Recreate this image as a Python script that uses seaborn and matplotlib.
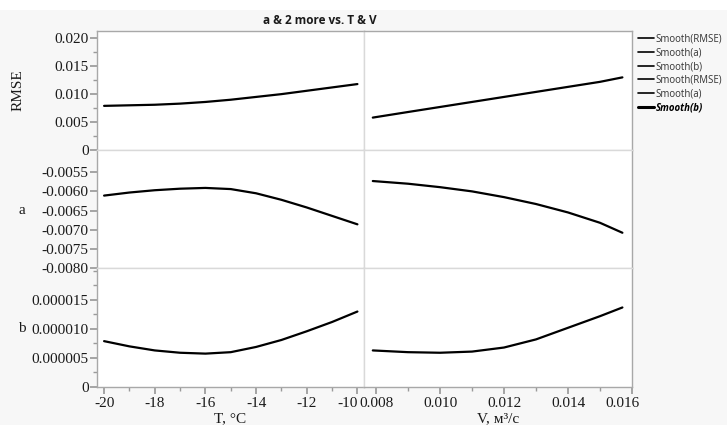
import numpy as np
import pandas as pd
import matplotlib
matplotlib.use("Agg")
import matplotlib.pyplot as plt
import seaborn as sns
from matplotlib.lines import Line2D
from matplotlib.patches import Rectangle
from matplotlib.ticker import FixedLocator, FixedFormatter, MultipleLocator
from matplotlib.transforms import ScaledTranslation

# ---- data ----
T_vals = [-20, -19, -18, -17, -16, -15, -14, -13, -12, -11, -10]
rmse_T = [0.0079, 0.0080, 0.0081, 0.0083, 0.0086, 0.0090, 0.0095, 0.0100, 0.0106, 0.0112, 0.0118]
a_T = [-0.00611, -0.00603, -0.00597, -0.00593, -0.00591, -0.00594, -0.00605, -0.00622, -0.00642, -0.00664, -0.00686]
b_T = [7.9e-6, 7.0e-6, 6.3e-6, 5.9e-6, 5.75e-6, 6.0e-6, 6.9e-6, 8.1e-6, 9.6e-6, 11.2e-6, 13.0e-6]

V_vals = [0.0079, 0.009, 0.010, 0.011, 0.012, 0.013, 0.014, 0.015, 0.0157]
rmse_V = [0.0058, 0.0068, 0.0077, 0.0086, 0.0095, 0.0104, 0.0113, 0.0122, 0.0130]
a_V = [-0.00573, -0.00580, -0.00589, -0.00600, -0.00615, -0.00633, -0.00655, -0.00682, -0.00708]
b_V = [6.3e-6, 6.0e-6, 5.9e-6, 6.1e-6, 6.8e-6, 8.2e-6, 10.2e-6, 12.2e-6, 13.7e-6]

title = "a & 2 more vs. T & V"
row_labels = ["RMSE", "a", "b"]
x_labels = ["T, °C", "V, м³/с"]
legend_labels = ["Smooth(RMSE)", "Smooth(a)", "Smooth(b)", "Smooth(RMSE)", "Smooth(a)", "Smooth(b)"]

T_ticks = [-20, -18, -16, -14, -12, -10]
V_ticks = [0.008, 0.010, 0.012, 0.014, 0.016]
V_tick_labels = ["0.008", "0.010", "0.012", "0.014", "0.016"]
rmse_ticks = [0, 0.005, 0.010, 0.015, 0.020]
rmse_tick_labels = ["0", "0.005", "0.010", "0.015", "0.020"]
a_ticks = [-0.0080, -0.0075, -0.0070, -0.0065, -0.0060, -0.0055]
a_tick_labels = ["-0.0080", "-0.0075", "-0.0070", "-0.0065", "-0.0060", "-0.0055"]
b_ticks = [0, 0.000005, 0.000010, 0.000015]
b_tick_labels = ["0", "0.000005", "0.000010", "0.000015"]

sns.set_theme(style="white")
plt.rcParams['font.family'] = ['Liberation Serif', 'DejaVu Serif']

W, H = 727, 425
fig = plt.figure(figsize=(W / 100, H / 100), dpi=100)
fig.patch.set_facecolor("#f7f7f7")
fig.patches.append(Rectangle((0, (H - 10) / H), 1, 10 / H, transform=fig.transFigure,
                             facecolor="white", edgecolor="none", zorder=-1))

def px_axes(x0, y0, x1, y1):
    return fig.add_axes([x0 / W, (H - y1) / H, (x1 - x0) / W, (y1 - y0) / H])

col_x = [(97, 364), (364, 632)]
row_y = [(31, 150), (150, 268), (268, 387)]
xlims = [(-20.28, -9.74), (0.007625, 0.016)]
ylims = [(0, 0.0213), (-0.0080, -0.00492), (0, 0.0000205)]
xs = [T_vals, V_vals]
ys = [[rmse_T, rmse_V], [a_T, a_V], [b_T, b_V]]
yticks = [(rmse_ticks, rmse_tick_labels, 0.0025), (a_ticks, a_tick_labels, None), (b_ticks, b_tick_labels, 0.0000025)]

tick_color = "#9a9a9a"
text_color = "#1a1a1a"
shift = ScaledTranslation(-10 / 100, 0, fig.dpi_scale_trans)
for r in range(3):
    for c in range(2):
        ax = px_axes(col_x[c][0], row_y[r][0], col_x[c][1], row_y[r][1])
        ax.set_facecolor("white")
        df = pd.DataFrame({"x": xs[c], "y": ys[r][c]})
        sns.lineplot(data=df, x="x", y="y", ax=ax, color="black", lw=1.6, legend=False)
        ax.set_xlim(*xlims[c])
        ax.set_ylim(*ylims[r])
        ax.set_xlabel("")
        ax.set_ylabel("")
        for s in ["top", "bottom", "left", "right"]:
            ax.spines[s].set_color("#d9d9d9")
            ax.spines[s].set_linewidth(1.0)
        if r == 0:
            ax.spines["top"].set_color("#a8a8a8")
        if c == 1:
            ax.spines["right"].set_color("#a8a8a8")
        if r == 2:
            ax.spines["bottom"].set_color("#a8a8a8")
        if c == 0:
            ax.spines["left"].set_color("#a8a8a8")
        # y ticks
        if c == 0:
            tk, tl, mn = yticks[r]
            ax.yaxis.set_major_locator(FixedLocator(tk))
            ax.yaxis.set_major_formatter(FixedFormatter(tl))
            if mn:
                ax.yaxis.set_minor_locator(MultipleLocator(mn))
            ax.tick_params(axis="y", which="both", left=True, direction="out",
                           color=tick_color, labelsize=11, labelcolor=text_color, pad=1)
            ax.tick_params(axis="y", which="major", length=5)
            ax.tick_params(axis="y", which="minor", length=3)
        else:
            ax.set_yticks([])
        # x ticks
        if r == 2:
            if c == 0:
                ax.set_xticks(T_ticks)
                ax.set_xticklabels([str(t) for t in T_ticks])
                ax.xaxis.set_minor_locator(MultipleLocator(1))
            else:
                ax.set_xticks(V_ticks)
                ax.set_xticklabels(V_tick_labels)
                ax.xaxis.set_minor_locator(MultipleLocator(0.001))
            ax.tick_params(axis="x", which="both", bottom=True, direction="out",
                           color=tick_color, labelsize=11, labelcolor=text_color, pad=2)
            ax.tick_params(axis="x", which="major", length=5)
            ax.tick_params(axis="x", which="minor", length=3)
            ax.set_xlabel(x_labels[c], fontsize=11, color=text_color, labelpad=2)
            # last tick label is pulled inwards as in the reference
            lbl = ax.get_xticklabels()[-1]
            lbl.set_transform(lbl.get_transform() + shift)
        else:
            ax.set_xticks([])

# row labels
fig.text(18 / W, 1 - 90 / H, row_labels[0], rotation=90, ha="center", va="center",
         fontsize=11, color=text_color)
fig.text(22 / W, 1 - 210 / H, row_labels[1], ha="center", va="center", fontsize=11, color=text_color)
fig.text(22 / W, 1 - 329 / H, row_labels[2], ha="center", va="center", fontsize=11, color=text_color)

# title
fig.text(320 / W, 1 - 20 / H, title, ha="center", va="center", fontsize=8.5,
         fontweight="bold", family=["Open Sans", "DejaVu Sans"], color=text_color)

# legend
handles = [Line2D([0], [0], color="black", lw=1.2) for _ in legend_labels]
handles[-1] = Line2D([0], [0], color="black", lw=2.2)
leg = fig.legend(handles, legend_labels, loc="upper left", bbox_to_anchor=(631 / W, 1 - 27 / H),
                 frameon=False, prop={"family": ["Open Sans", "DejaVu Sans"], "size": 6.9},
                 handlelength=1.7, handletextpad=0.15, labelspacing=0.28, borderpad=0.2)
for t in leg.get_texts():
    t.set_color("#333333")
leg.get_texts()[-1].set_fontweight("bold")
leg.get_texts()[-1].set_fontstyle("italic")
leg.get_texts()[-1].set_color("black")

fig.savefig("out.png", dpi=100, facecolor=fig.get_facecolor())
